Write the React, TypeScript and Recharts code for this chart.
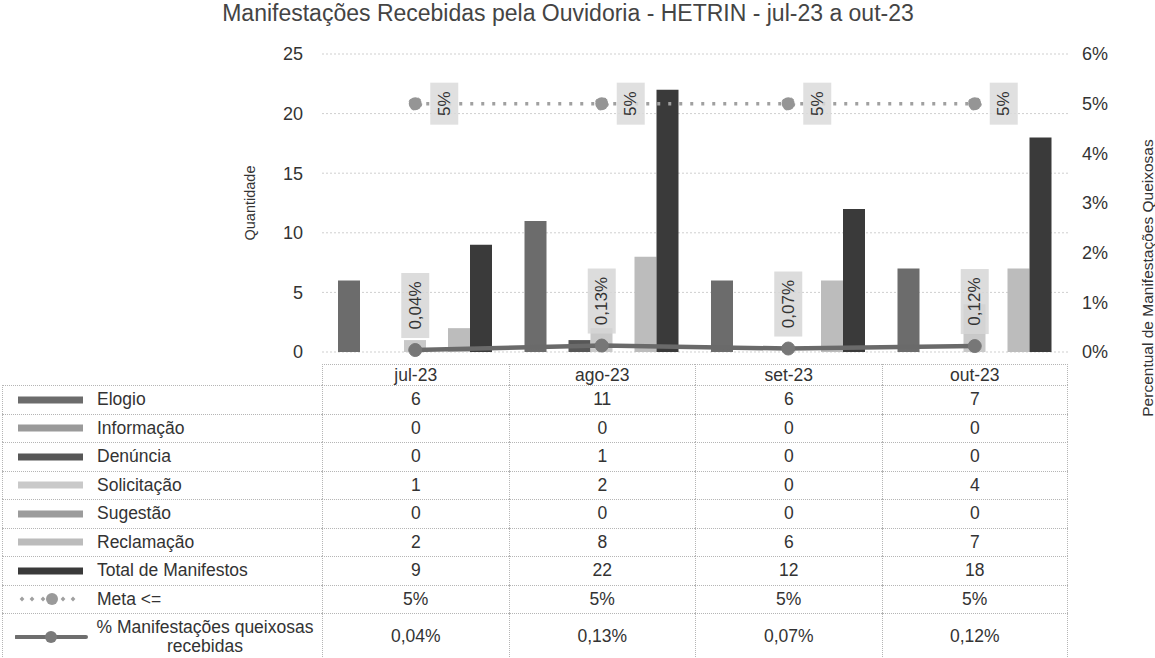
import React from 'react';
import { ComposedChart, Bar, Line, XAxis, YAxis, CartesianGrid, LabelList } from 'recharts';

const categories = ['jul-23', 'ago-23', 'set-23', 'out-23'];
const elogio = [6, 11, 6, 7];
const informacao = [0, 0, 0, 0];
const denuncia = [0, 1, 0, 0];
const solicitacao = [1, 2, 0, 4];
const sugestao = [0, 0, 0, 0];
const reclamacao = [2, 8, 6, 7];
const totalManifestos = [9, 22, 12, 18];
const meta = [5, 5, 5, 5];
const queixosas = [0.04, 0.13, 0.07, 0.12];
const leftTicks = [0, 5, 10, 15, 20, 25];
const rightTicks = [0, 1, 2, 3, 4, 5, 6];

const FONT = '"Liberation Sans", Arial, sans-serif';
const TEXT = '#333';

// layout of the plot area (px)
const W = 1155;
const CHART_H = 440;
const PLOT_L = 322;
const PLOT_R = 1068;
const PLOT_T = 54;
const PLOT_B = 352;
const AXIS_W = 60;

const barSeries = [
  { key: 'elogio', name: 'Elogio', values: elogio, color: '#6c6c6c' },
  { key: 'informacao', name: 'Informação', values: informacao, color: '#9a9a9a' },
  { key: 'denuncia', name: 'Denúncia', values: denuncia, color: '#575757' },
  { key: 'solicitacao', name: 'Solicitação', values: solicitacao, color: '#c9c9c9' },
  { key: 'sugestao', name: 'Sugestão', values: sugestao, color: '#9c9c9c' },
  { key: 'reclamacao', name: 'Reclamação', values: reclamacao, color: '#bcbcbc' },
  { key: 'total', name: 'Total de Manifestos', values: totalManifestos, color: '#3a3a3a' },
];

const data = categories.map((c, i) => {
  const row: any = { name: c, meta: meta[i], queixosas: queixosas[i] };
  barSeries.forEach((s) => (row[s.key] = s.values[i]));
  return row;
});

const fmtPct = (v: number) => `${v.toFixed(2).replace('.', ',')}%`;

const RotatedBoxLabel = ({ cx, cy, w, h, text, fill }: any) => (
  <g>
    <rect x={cx - w / 2} y={cy - h / 2} width={w} height={h} fill={fill} fillOpacity={0.85} />
    <text
      x={cx}
      y={cy}
      transform={`rotate(-90, ${cx}, ${cy})`}
      textAnchor="middle"
      dominantBaseline="central"
      fontSize={17}
      fontFamily={FONT}
      fill={TEXT}
    >
      {text}
    </text>
  </g>
);

const MetaLabel = (props: any) => {
  const { x, y, value } = props;
  if (x == null || y == null) return null;
  return <RotatedBoxLabel cx={x + 29} cy={y} w={28} h={42} text={`${value}%`} fill="#dadada" />;
};

const PctLabel = (props: any) => {
  const { x, y, value } = props;
  if (x == null || y == null) return null;
  const h = 65;
  return <RotatedBoxLabel cx={x} cy={y - 12 - h / 2} w={28} h={h} text={fmtPct(value)} fill="#d6d6d6" />;
};

const BarKey = ({ color }: { color: string }) => (
  <svg width={79} height={12} style={{ display: 'block', flex: 'none' }}>
    <rect x={0} y={2.5} width={65} height={7} fill={color} />
  </svg>
);

const MetaKey = () => (
  <svg width={79} height={14} style={{ display: 'block', flex: 'none' }}>
    {[4, 14, 25, 45, 55].map((x) => (
      <rect key={x} x={x - 1.7} y={5.3} width={3.4} height={3.4} fill="#a0a0a0" transform={`rotate(45, ${x}, 7)`} />
    ))}
    <circle cx={34} cy={7} r={6} fill="#9a9a9a" />
  </svg>
);

const PctKey = () => (
  <svg width={73} height={14} style={{ display: 'block', flex: 'none' }}>
    <line x1={1} y1={7} x2={71} y2={7} stroke="#6e6e6e" strokeWidth={4} strokeLinecap="round" />
    <circle cx={36} cy={7} r={6} fill="#7a7a7a" />
  </svg>
);

const tableRows = [
  ...barSeries.map((s) => ({ label: s.name, key: <BarKey color={s.color} />, values: s.values.map(String) })),
  { label: 'Meta <=', key: <MetaKey />, values: meta.map((v) => `${v}%`) },
  { label: '% Manifestações queixosas recebidas', key: <PctKey />, values: queixosas.map(fmtPct) },
];

const HEADER_TOP = 364;
const HEADER_H = 21;
const ROW_H = 28.5;
const LAST_H = 46;
const BORDER = '1px dotted #b5b5b5';

const DataTable = () => {
  const colW = (PLOT_R - PLOT_L) / categories.length;
  const cells: React.ReactNode[] = [];
  categories.forEach((c, i) => {
    cells.push(
      <div
        key={`h${i}`}
        style={{
          position: 'absolute',
          left: PLOT_L + i * colW,
          top: HEADER_TOP,
          width: colW,
          height: HEADER_H,
          borderTop: BORDER,
          borderLeft: BORDER,
          borderRight: i === categories.length - 1 ? BORDER : undefined,
          boxSizing: 'border-box',
          textAlign: 'center',
          lineHeight: `${HEADER_H}px`,
        }}
      >
        {c}
      </div>
    );
  });
  let top = HEADER_TOP + HEADER_H;
  tableRows.forEach((r, ri) => {
    const last = ri === tableRows.length - 1;
    const h = last ? LAST_H : ROW_H;
    cells.push(
      <div
        key={`l${ri}`}
        style={{
          position: 'absolute',
          left: 2,
          top,
          width: PLOT_L - 2,
          height: h,
          borderTop: BORDER,
          borderLeft: BORDER,
          boxSizing: 'border-box',
          display: 'flex',
          alignItems: 'center',
          paddingLeft: last ? 12 : 15,
        }}
      >
        {r.key}
        <span
          style={{
            marginLeft: last ? 1 : 0,
            textAlign: last ? 'center' : 'left',
            lineHeight: '19px',
            width: last ? 232 : undefined,
          }}
        >
          {r.label}
        </span>
      </div>
    );
    r.values.forEach((v, i) => {
      cells.push(
        <div
          key={`c${ri}-${i}`}
          style={{
            position: 'absolute',
            left: PLOT_L + i * colW,
            top,
            width: colW,
            height: h,
            borderTop: BORDER,
            borderLeft: BORDER,
            borderRight: i === categories.length - 1 ? BORDER : undefined,
            borderBottom: last ? BORDER : undefined,
            boxSizing: 'border-box',
            display: 'flex',
            alignItems: 'center',
            justifyContent: 'center',
          }}
        >
          {v}
        </div>
      );
    });
    top += h;
  });
  return <>{cells}</>;
};

export default function App() {
  return (
    <div
      style={{
        position: 'absolute',
        left: 0,
        top: 0,
        width: W,
        height: 658,
        background: '#fff',
        fontFamily: FONT,
        fontSize: 17.5,
        color: TEXT,
        overflow: 'hidden',
      }}
    >
      <div
        style={{
          position: 'absolute',
          left: 0,
          top: 0,
          width: 1136,
          textAlign: 'center',
          fontSize: 23,
          color: '#444',
        }}
      >
        Manifestações Recebidas pela Ouvidoria - HETRIN - jul-23 a out-23
      </div>
      <div style={{ position: 'absolute', left: 0, top: 0 }}>
        <ComposedChart
          width={W}
          height={CHART_H}
          data={data}
          barGap={0}
          margin={{ top: PLOT_T, right: W - PLOT_R - AXIS_W, left: PLOT_L - AXIS_W, bottom: CHART_H - PLOT_B }}
        >
          <CartesianGrid yAxisId="left" vertical={false} stroke="#cfcfcf" strokeDasharray="2 2" />
          <XAxis dataKey="name" hide />
          <YAxis
            yAxisId="left"
            width={AXIS_W}
            domain={[0, 25]}
            ticks={leftTicks}
            axisLine={false}
            tickLine={false}
            tickMargin={13}
            tick={{ fill: TEXT, fontSize: 18, fontFamily: FONT }}
            label={{
              value: 'Quantidade',
              content: ({ viewBox }: any) => {
                const cx = 255;
                const cy = viewBox.y + viewBox.height / 2;
                return (
                  <text x={cx} y={cy} transform={`rotate(-90, ${cx}, ${cy})`} textAnchor="middle" fontSize={14.5} fontFamily={FONT} fill={TEXT}>
                    Quantidade
                  </text>
                );
              },
            }}
          />
          <YAxis
            yAxisId="right"
            orientation="right"
            width={AXIS_W}
            domain={[0, 6]}
            ticks={rightTicks}
            axisLine={false}
            tickLine={false}
            tickMargin={8}
            tickFormatter={(v) => `${v}%`}
            tick={{ fill: TEXT, fontSize: 18, fontFamily: FONT }}
            label={{
              value: 'Percentual de Manifestações Queixosas',
              content: ({ viewBox }: any) => {
                const cx = 1153;
                const cy = viewBox.y + viewBox.height / 2 + 75;
                return (
                  <text x={cx} y={cy} transform={`rotate(-90, ${cx}, ${cy})`} textAnchor="middle" fontSize={15.5} fontFamily={FONT} fill={TEXT}>
                    Percentual de Manifestações Queixosas
                  </text>
                );
              },
            }}
          />
          {barSeries.map((s) => (
            <Bar key={s.key} yAxisId="left" dataKey={s.key} name={s.name} fill={s.color} barSize={22} isAnimationActive={false} />
          ))}
          <Line
            yAxisId="right"
            dataKey="meta"
            name="Meta <="
            stroke="#a0a0a0"
            strokeWidth={3.5}
            strokeDasharray="3 8"
            dot={{ r: 6.5, fill: '#959595', stroke: '#959595', strokeWidth: 1 }}
            isAnimationActive={false}
          >
            <LabelList dataKey="meta" content={<MetaLabel />} />
          </Line>
          <Line
            yAxisId="right"
            dataKey="queixosas"
            name="% Manifestações queixosas recebidas"
            stroke="#6a6a6a"
            strokeWidth={4.5}
            dot={{ r: 6.5, fill: '#777', stroke: '#777', strokeWidth: 1 }}
            isAnimationActive={false}
          >
            <LabelList dataKey="queixosas" content={<PctLabel />} />
          </Line>
        </ComposedChart>
      </div>
      <DataTable />
    </div>
  );
}
